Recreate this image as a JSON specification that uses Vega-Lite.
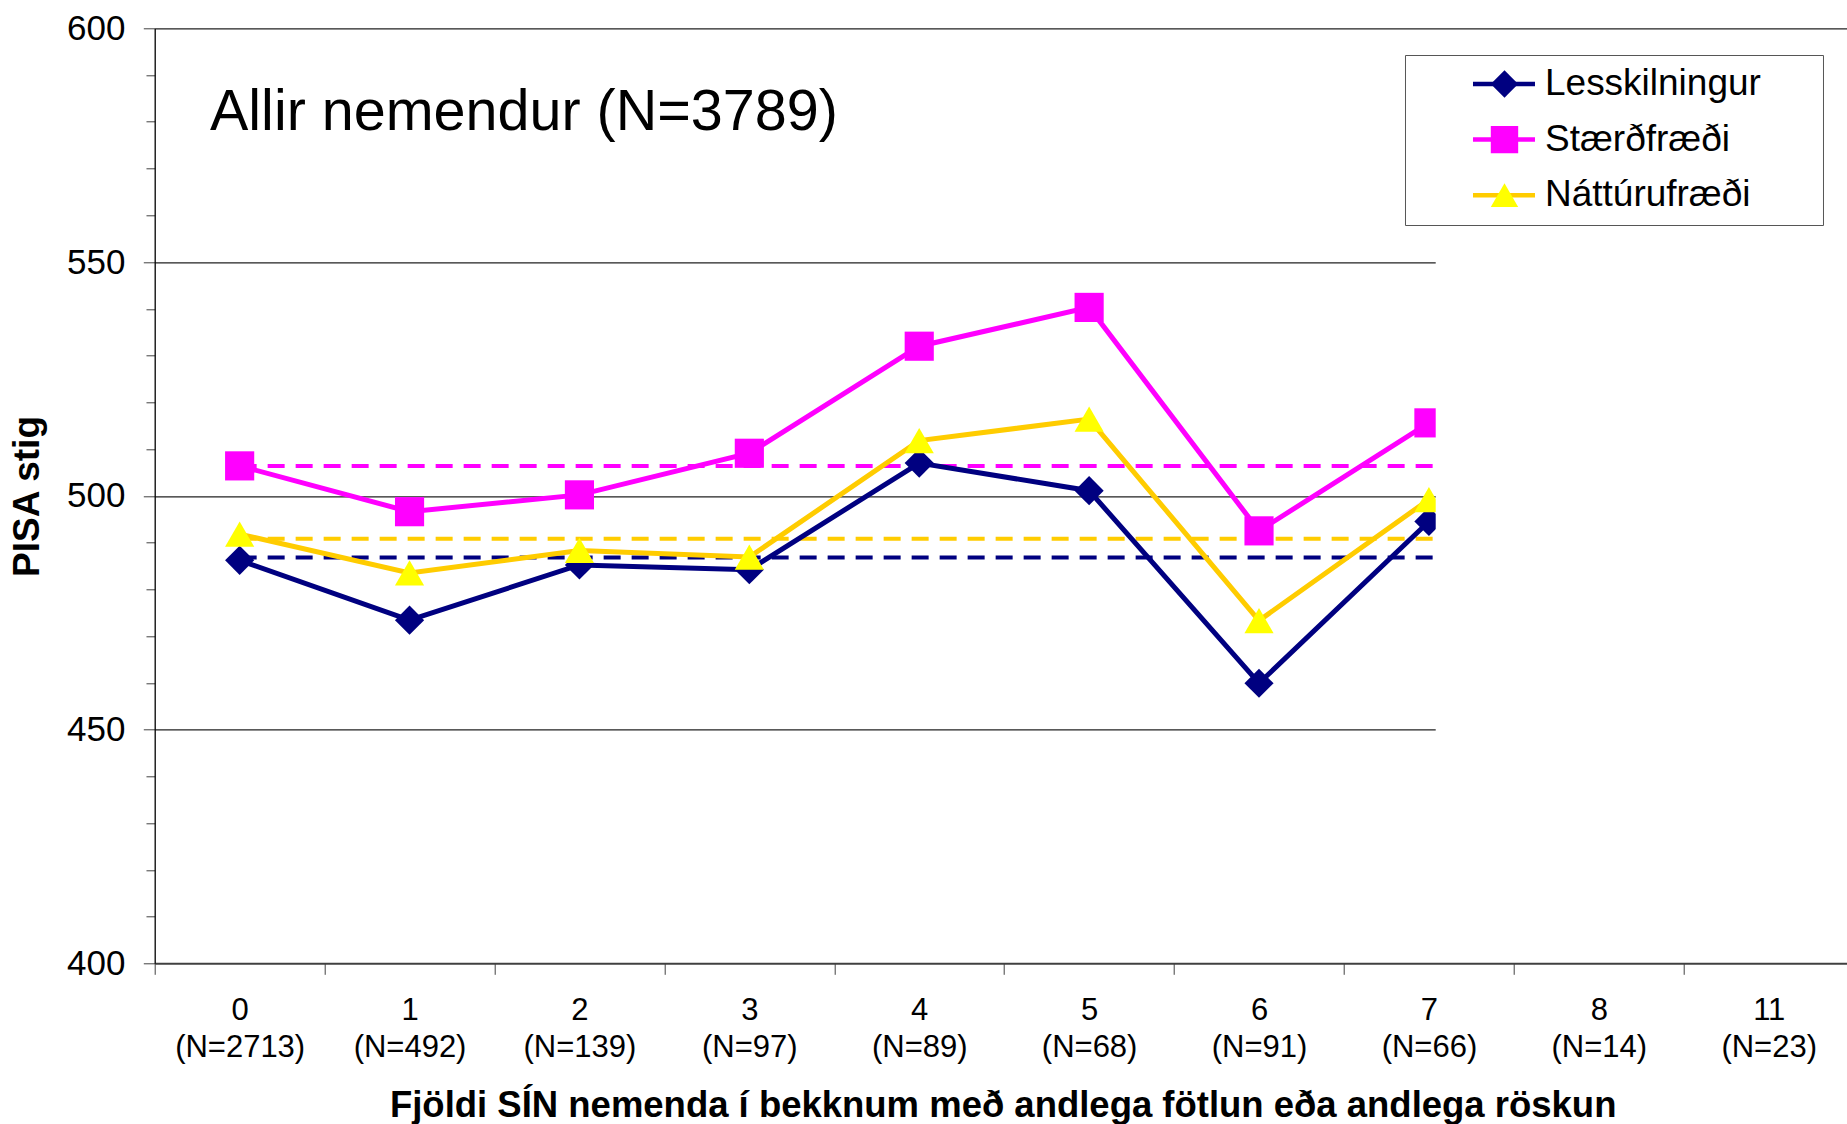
{
  "$schema": "https://vega.github.io/schema/vega-lite/v6.json",
  "width": 1692,
  "height": 935,
  "autosize": {"type": "none"},
  "padding": {"left": 154.7, "top": 28.3, "right": 0, "bottom": 160.7},
  "background": "white",
  "config": {"font": "Liberation Sans", "view": {"stroke": null}},
  "datasets": {
    "scores": [
      {"i": 0, "subject": "Lesskilningur", "score": 486.2},
      {"i": 1, "subject": "Lesskilningur", "score": 473.4},
      {"i": 2, "subject": "Lesskilningur", "score": 485.2},
      {"i": 3, "subject": "Lesskilningur", "score": 484.2},
      {"i": 4, "subject": "Lesskilningur", "score": 507.0},
      {"i": 5, "subject": "Lesskilningur", "score": 501.1},
      {"i": 6, "subject": "Lesskilningur", "score": 459.9},
      {"i": 7, "subject": "Lesskilningur", "score": 494.5},
      {"i": 0, "subject": "Stærðfræði", "score": 506.4},
      {"i": 1, "subject": "Stærðfræði", "score": 496.6},
      {"i": 2, "subject": "Stærðfræði", "score": 500.2},
      {"i": 3, "subject": "Stærðfræði", "score": 509.1},
      {"i": 4, "subject": "Stærðfræði", "score": 532.0},
      {"i": 5, "subject": "Stærðfræði", "score": 540.3},
      {"i": 6, "subject": "Stærðfræði", "score": 492.5},
      {"i": 7, "subject": "Stærðfræði", "score": 515.6},
      {"i": 0, "subject": "Náttúrufræði", "score": 491.8},
      {"i": 1, "subject": "Náttúrufræði", "score": 483.5},
      {"i": 2, "subject": "Náttúrufræði", "score": 488.3},
      {"i": 3, "subject": "Náttúrufræði", "score": 486.9},
      {"i": 4, "subject": "Náttúrufræði", "score": 511.8},
      {"i": 5, "subject": "Náttúrufræði", "score": 516.4},
      {"i": 6, "subject": "Náttúrufræði", "score": 473.3},
      {"i": 7, "subject": "Náttúrufræði", "score": 499.2}
    ],
    "avgs": [
      {"subject": "Lesskilningur", "avg": 486.8},
      {"subject": "Stærðfræði", "avg": 506.4},
      {"subject": "Náttúrufræði", "avg": 490.8}
    ]
  },
  "layer": [
    {
      "data": {"name": "avgs"},
      "mark": {"type": "rule", "strokeWidth": 4, "strokeDash": [17, 11]},
      "encoding": {
        "x": {"datum": 0},
        "x2": {"datum": 7.04},
        "y": {"field": "avg", "type": "quantitative"},
        "color": {
          "field": "subject", "type": "nominal",
          "scale": {"range": ["#000080", "#FFCC00", "#FF00FF"]},
          "legend": null
        }
      }
    },
    {
      "data": {"name": "scores"},
      "mark": {"type": "line", "strokeWidth": 5},
      "encoding": {
        "x": {
          "field": "i", "type": "quantitative",
          "scale": {"domain": [-0.5, 9.459], "nice": false, "zero": false},
          "axis": {
            "values": [-0.5, 0.5, 1.5, 2.5, 3.5, 4.5, 5.5, 6.5, 7.5, 8.5],
            "title": "Fjöldi SÍN nemenda í bekknum með andlega fötlun eða andlega röskun",
            "titleFont": "Liberation Sans", "titleFontSize": 36.5, "titleFontWeight": "bold", "titleColor": "black",
            "titleX": 848, "titleY": 153, "titleBaseline": "alphabetic", "titleAlign": "center", "titleAnchor": "start",
            "labelExpr": "[['0','(N=2713)'],['1','(N=492)'],['2','(N=139)'],['3','(N=97)'],['4','(N=89)'],['5','(N=68)'],['6','(N=91)'],['7','(N=66)'],['8','(N=14)'],['11','(N=23)']][round(datum.value + 0.5)]",
            "labelOffset": 84.95,
            "labelFont": "Liberation Sans", "labelFontSize": 31, "labelColor": "black",
            "labelAlign": "center", "labelBaseline": "top", "labelPadding": 21, "labelLineHeight": 37,
            "labelOverlap": false, "labelFlush": false, "labelBound": false,
            "tickSize": 11, "tickColor": "#404040", "tickWidth": 1,
            "domainColor": "#404040", "domainWidth": 2,
            "grid": false
          }
        },
        "y": {
          "field": "score", "type": "quantitative",
          "scale": {"domain": [400, 600], "nice": false, "zero": false},
          "axis": {
            "values": [400, 410, 420, 430, 440, 450, 460, 470, 480, 490, 500, 510, 520, 530, 540, 550, 560, 570, 580, 590, 600],
            "title": "PISA stig",
            "titleFont": "Liberation Sans", "titleFontSize": 37, "titleFontWeight": "bold", "titleColor": "black",
            "titleAngle": 270, "titleX": -115.7, "titleY": 467.7, "titleBaseline": "alphabetic", "titleAlign": "center", "titleAnchor": "start",
            "labelExpr": "datum.value % 50 === 0 ? datum.label : ''",
            "labelFont": "Liberation Sans", "labelFontSize": 35, "labelColor": "black", "labelPadding": 18.3,
            "labelOverlap": false, "labelFlush": false, "labelBound": false,
            "tickSize": {"condition": {"test": "datum.value % 50 === 0", "value": 11.4}, "value": 8.7},
            "tickColor": "#404040", "tickWidth": 1,
            "domainColor": "black", "domainWidth": 1.3,
            "grid": true, "gridColor": "#222222", "gridWidth": 1.2,
            "gridOpacity": {"condition": {"test": "datum.value % 50 === 0 && datum.value > 400", "value": 1}, "value": 0}
          }
        },
        "stroke": {
          "field": "subject", "type": "nominal",
          "scale": {"domain": ["Lesskilningur", "Stærðfræði", "Náttúrufræði"], "range": ["#000080", "#FF00FF", "#FFCC00"]},
          "legend": {
            "orient": "none", "legendX": 1250.3, "legendY": 26.7, "title": null,
            "padding": 10, "symbolOffset": 55.5, "labelOffset": 7.5,
            "symbolType": "stroke", "symbolSize": 3844, "symbolStrokeWidth": 4.5,
            "labelFont": "Liberation Sans", "labelFontSize": 37, "labelColor": "black", "labelLimit": 500,
            "labelExpr": "datum.label + '\u00a0\u00a0\u00a0\u00a0\u00a0\u200b'",
            "rowPadding": 17.6, "clipHeight": 38,
            "strokeColor": "#555555", "fillColor": "white", "zindex": 1
          }
        }
      }
    },
    {
      "data": {"name": "scores"},
      "mark": {"type": "point", "filled": true, "size": 850, "opacity": 1, "strokeWidth": 0},
      "encoding": {
        "x": {"field": "i", "type": "quantitative"},
        "y": {"field": "score", "type": "quantitative"},
        "fill": {
          "field": "subject", "type": "nominal",
          "scale": {"range": ["#000080", "#FFFF00", "#FF00FF"]},
          "legend": {
            "orient": "none", "legendX": 1321.3, "legendY": 26.7, "title": null,
            "values": ["Lesskilningur", "Stærðfræði", "Náttúrufræði"],
            "padding": 10, "symbolSize": 750, "symbolStrokeWidth": 0,
            "labelFont": "Liberation Sans", "labelFontSize": 37, "labelExpr": "''", "labelLimit": 500,
            "rowPadding": 17.6, "clipHeight": 38, "zindex": 2
          }
        },
        "shape": {
          "field": "subject", "type": "nominal",
          "scale": {"range": ["diamond", "triangle-up", "square"]},
          "legend": {
            "orient": "none", "legendX": 1321.3, "legendY": 26.7, "title": null,
            "values": ["Lesskilningur", "Stærðfræði", "Náttúrufræði"],
            "padding": 10, "symbolSize": 750, "symbolStrokeWidth": 0,
            "labelFont": "Liberation Sans", "labelFontSize": 37, "labelExpr": "''", "labelLimit": 500,
            "rowPadding": 17.6, "clipHeight": 38, "zindex": 2
          }
        }
      }
    },
    {
      "data": {"values": [{}]},
      "mark": {"type": "rect", "fill": "white"},
      "encoding": {
        "x": {"datum": 7.04},
        "x2": {"datum": 9.7},
        "y": {"datum": 401},
        "y2": {"datum": 599}
      }
    },
    {
      "data": {"values": [{"label": "Allir nemendur (N=3789)"}]},
      "mark": {"type": "text", "fontSize": 57.5, "align": "left", "baseline": "alphabetic", "font": "Liberation Sans", "color": "black"},
      "encoding": {
        "x": {"datum": -0.1745},
        "y": {"datum": 578.25},
        "text": {"field": "label"}
      }
    }
  ]
}
